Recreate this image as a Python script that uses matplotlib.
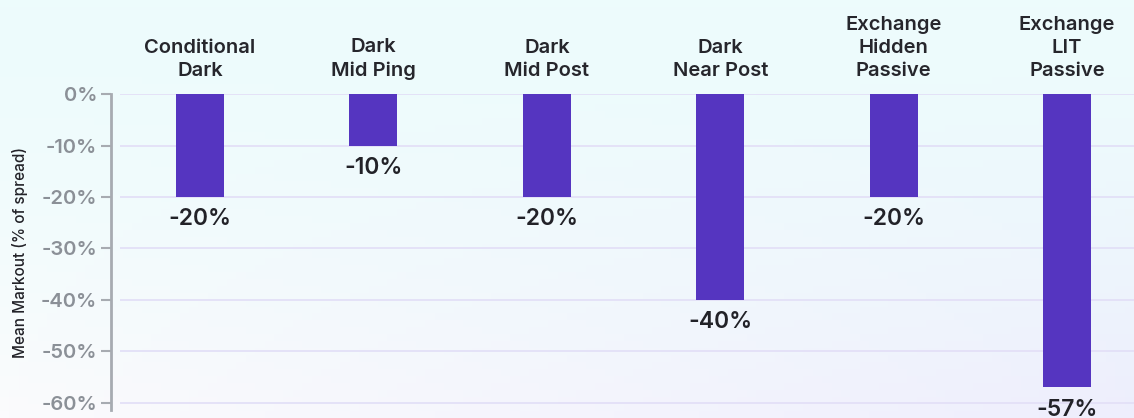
import numpy as np
import matplotlib.pyplot as plt

# data
venues = ["Conditional\nDark", "Dark\nMid Ping", "Dark\nMid Post",
          "Dark\nNear Post", "Exchange\nHidden\nPassive", "Exchange\nLIT\nPassive"]
markout = [-20, -10, -20, -40, -20, -57]
yticks = [0, -10, -20, -30, -40, -50, -60]
ytick_labels = ["0%", "-10%", "-20%", "-30%", "-40%", "-50%", "-60%"]

plt.rcParams['font.family'] = ['Inter', 'DejaVu Sans']

fig = plt.figure(figsize=(11.34, 4.18), dpi=100)

# soft background gradient
bg = fig.add_axes([0, 0, 1, 1])
ny, nx = 60, 120
yy, xx = np.mgrid[0:1:ny * 1j, 0:1:nx * 1j]
top = np.array([237, 252, 252]) / 255
bl = np.array([251, 251, 253]) / 255
br = np.array([238, 238, 252]) / 255
bottom = bl[None, None, :] * (1 - xx[..., None]) + br[None, None, :] * xx[..., None]
t = yy[..., None] ** 1.5
img = top[None, None, :] * (1 - t) + bottom * t
bg.imshow(img, aspect='auto', extent=[0, 1, 1, 0])
bg.set_axis_off()

ax = fig.add_axes([0.0979, 0.019, 0.9021, 0.756])
ax.patch.set_alpha(0)

x = np.arange(len(venues))
ax.set_xlim(-0.513, len(venues) - 1 + 0.386)
ax.set_ylim(-61.4, 0)

for y in yticks:
    ax.hlines(y, -0.46, len(venues), color='#e3e0f7', lw=1.3, zorder=0)

ax.bar(x, markout, width=0.277, color='#5535c0', zorder=2)

for xi, v in zip(x, markout):
    ax.annotate(f"{v}%", (xi, v), xytext=(0, -8), textcoords='offset points',
                ha='center', va='top', fontsize=16.5, fontweight='semibold',
                color='#222228', annotation_clip=False)

for xi, name in zip(x, venues):
    ax.annotate(name, (xi, 0), xytext=(0, 10), textcoords='offset points',
                ha='center', va='bottom', fontsize=14.5, fontweight='semibold',
                color='#26262c', linespacing=1.38, annotation_clip=False)

ax.set_yticks(yticks)
ax.set_yticklabels(ytick_labels)
ax.set_xticks([])
ax.tick_params(axis='y', length=7, width=1.5, color='#a7abb1', labelsize=14.5,
               labelcolor='#8b9097', pad=3)
for lbl in ax.get_yticklabels():
    lbl.set_fontweight('semibold')

for s in ['top', 'right', 'bottom']:
    ax.spines[s].set_visible(False)
ax.spines['left'].set_color('#a7abb1')
ax.spines['left'].set_linewidth(2)

ax.set_ylabel("Mean Markout (% of spread)", fontsize=11, fontweight='medium',
              color='#222228', labelpad=9)

fig.savefig("out.png", dpi=100)
